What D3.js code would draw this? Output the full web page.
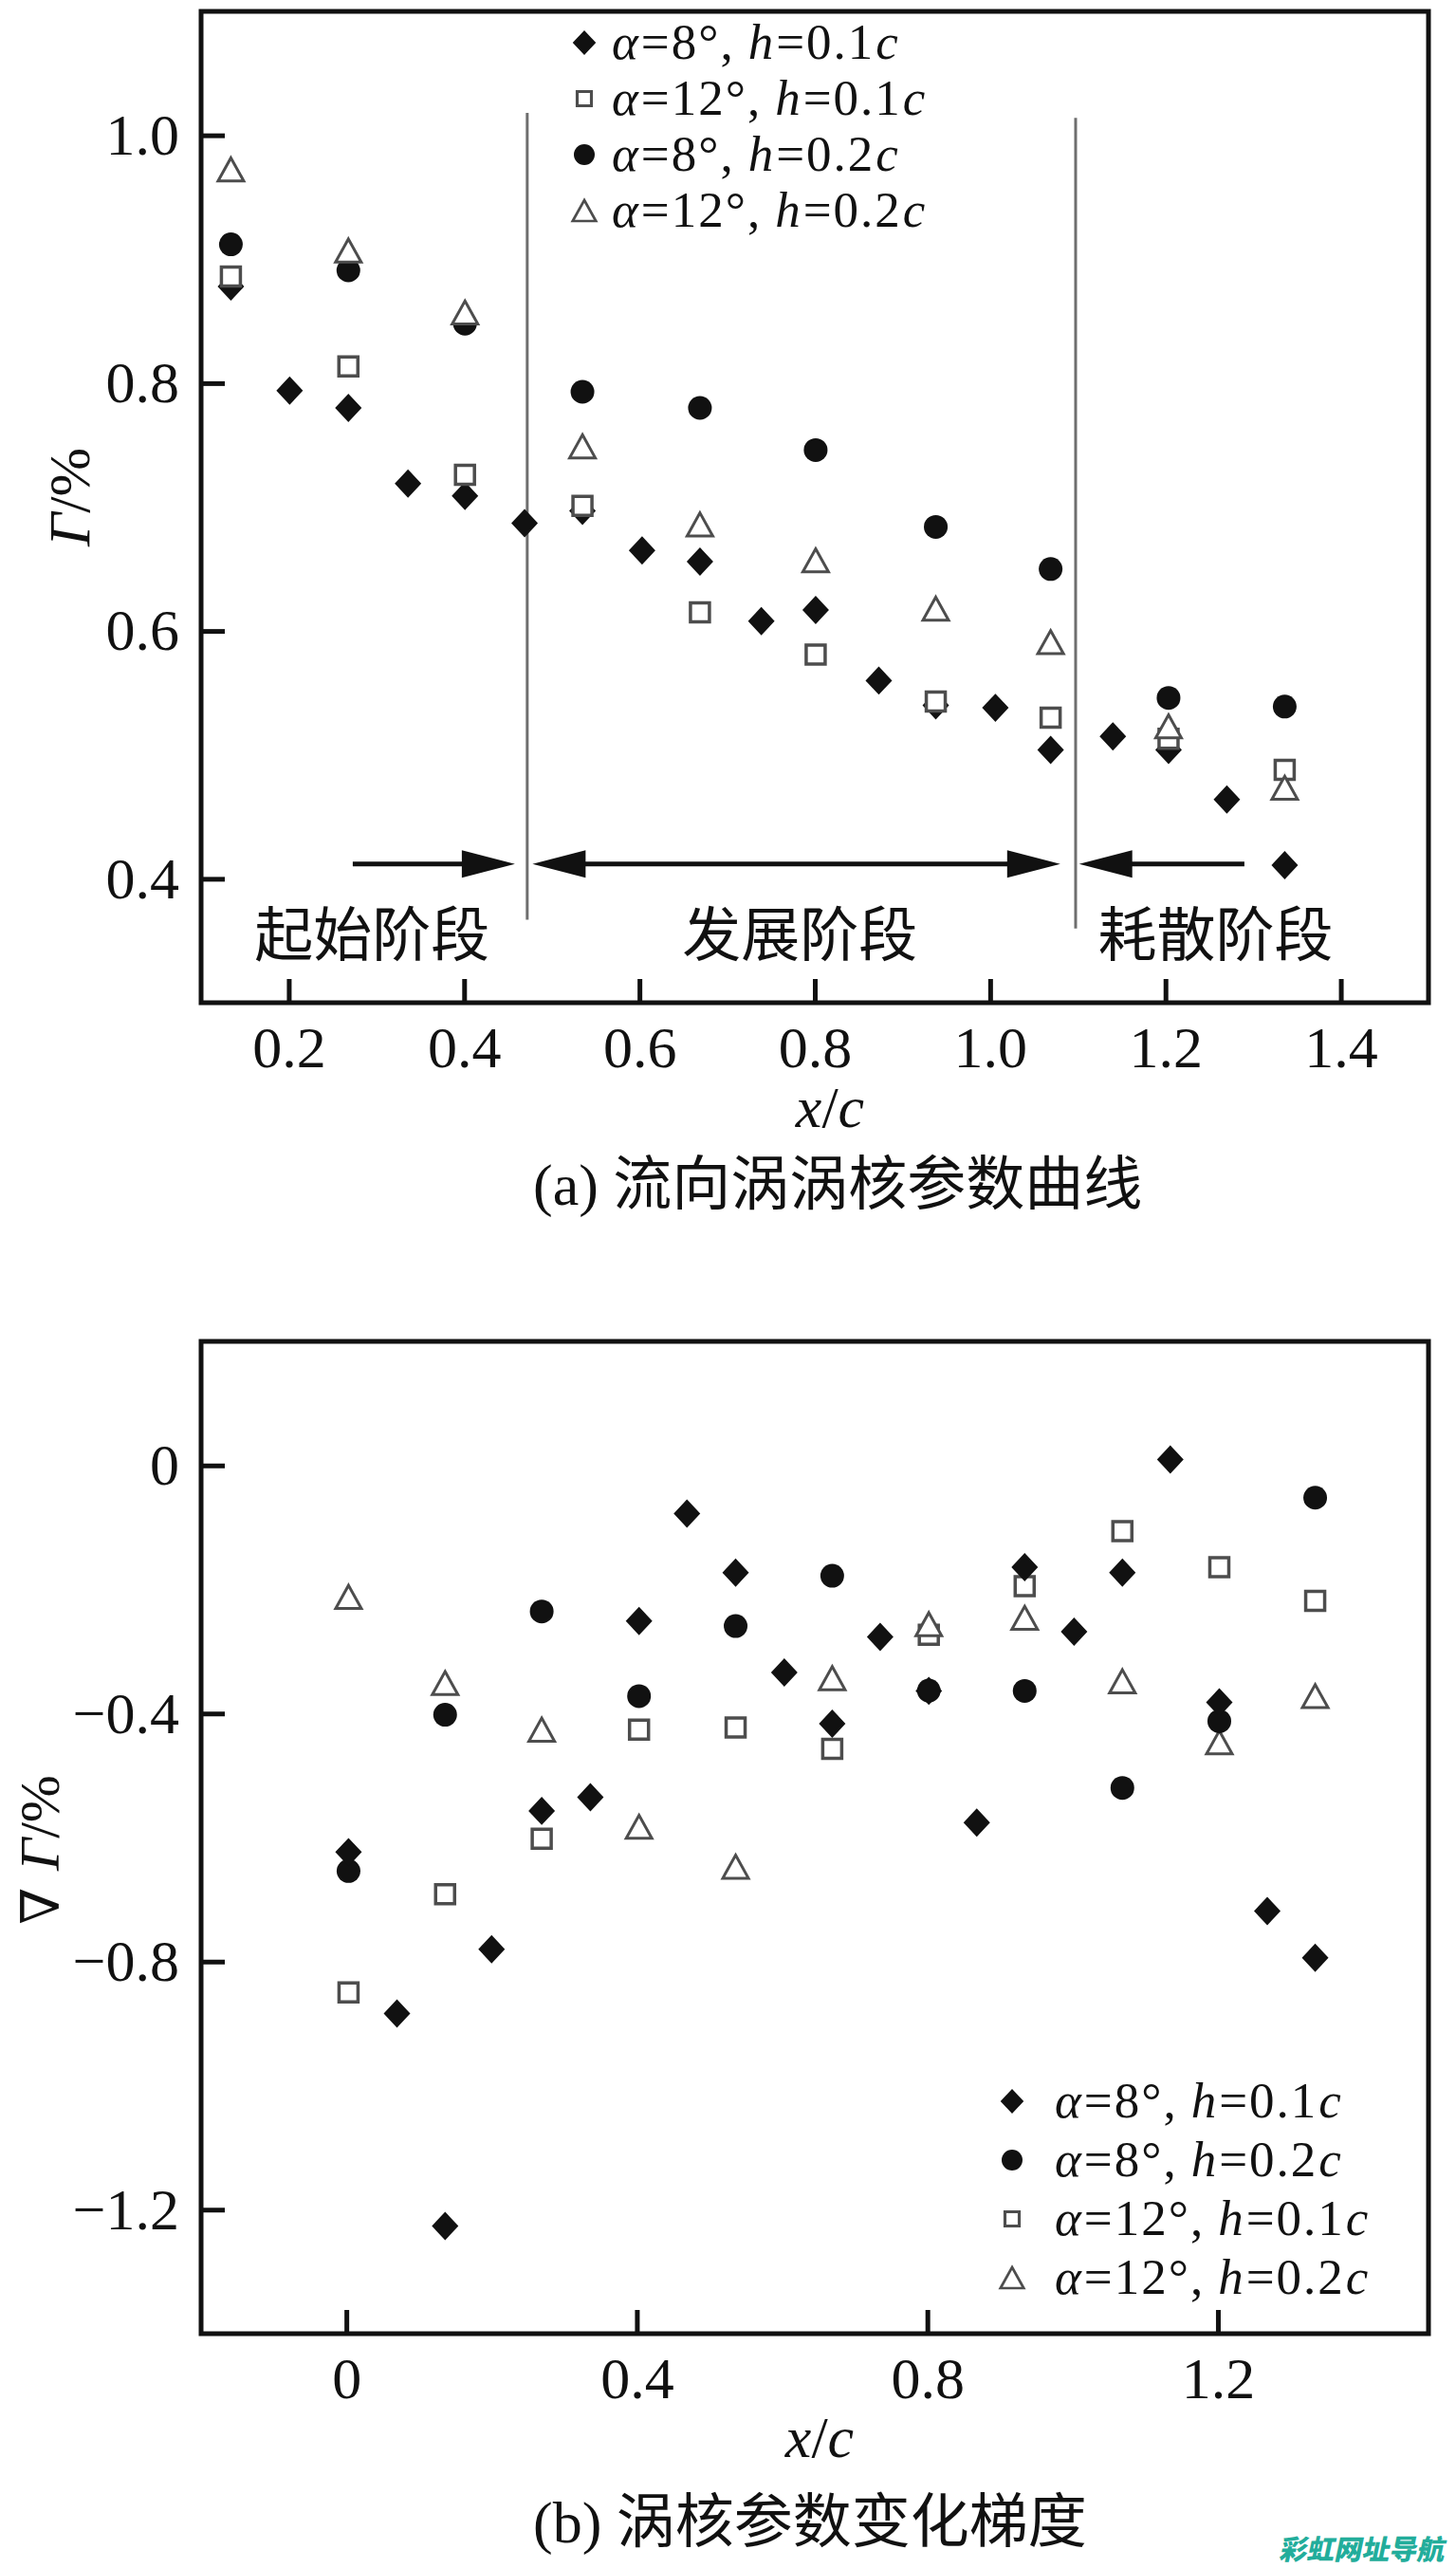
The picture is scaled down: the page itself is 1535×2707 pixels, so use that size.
<!DOCTYPE html>
<html><head><meta charset="utf-8">
<script src="https://cdn.jsdelivr.net/npm/d3@7"></script>
<style>body{margin:0;background:#fff} svg{display:block}</style>
</head><body>
<svg id="chart" width="1535" height="2707"></svg>
<script>
// ---------------- data ----------------
const legendA = ["8°|0.1", "12°|0.1", "8°|0.2", "12°|0.2"];
const legendB = ["8°|0.1", "8°|0.2", "12°|0.1", "12°|0.2"];

// (a) 流向涡涡核参数曲线
const aX_diamond = [0.134,0.201,0.268,0.336,0.401,0.469,0.535,0.603,0.669,0.739,0.801,0.873,0.938,1.006,1.069,1.14,1.2035,1.27,1.336];
const aY_diamond = [0.878,0.794,0.780,0.719,0.709,0.687,0.697,0.665,0.656,0.608,0.617,0.560,0.540,0.538,0.504,0.515,0.504,0.464,0.411];
const aX_other = [0.134,0.268,0.401,0.535,0.669,0.801,0.938,1.069,1.2035,1.336];
const aY_square = [0.886,0.8135,0.726,0.701,0.615,0.581,0.543,0.530,0.513,0.488];
const aY_circle = [0.912,0.891,0.848,0.793,0.780,0.746,0.684,0.650,0.546,0.539];
const aY_triangle = [0.9725,0.907,0.857,0.749,0.686,0.657,0.618,0.591,0.523,0.4735];

const aXTicks = [0.2,0.4,0.6,0.8,1.0,1.2,1.4];
const aYTicks = [0.4,0.6,0.8,1.0];
const stageBounds = [0.472, 1.0975];
const stageLineTop = [1.018, 1.014];
const stageLineBottom = [0.367, 0.360];
const arrowY = 0.412;
const arrows = [[0.273,0.458,"end"],[0.478,1.08,"both"],[1.1015,1.29,"start"]];
const stageLabels = ["起始阶段","发展阶段","耗散阶段"];
const stageLabelX = [0.295,0.783,1.257];

// (b) 涡核参数变化梯度
const bX_diamond = [0.003,0.0697,0.136,0.2,0.269,0.336,0.403,0.469,0.536,0.603,0.669,0.735,0.802,0.868,0.934,1.002,1.0685,1.1345,1.202,1.268,1.334];
const bY_diamond = [-0.6235,-0.8836,-1.2265,-0.78,-0.557,-0.535,-0.251,-0.0776,-0.173,-0.334,-0.4165,-0.2764,-0.3635,-0.576,-0.164,-0.268,-0.173,0.0095,-0.382,-0.7187,-0.794];
const bX_other = [0.003,0.136,0.269,0.403,0.536,0.669,0.802,0.934,1.0685,1.202,1.334];
const bY_circle = [-0.654,-0.402,-0.2355,-0.372,-0.259,-0.178,-0.363,-0.3635,-0.52,-0.4125,-0.052];
const bY_square = [-0.8497,-0.6915,-0.602,-0.426,-0.4227,-0.457,-0.273,-0.1947,-0.106,-0.164,-0.2185];
const bY_triangle = [-0.212,-0.351,-0.426,-0.5826,-0.647,-0.343,-0.256,-0.2457,-0.348,-0.4465,-0.372];

const bXTicks = [0,0.4,0.8,1.2];
const bYTicks = [-1.2,-0.8,-0.4,0];

// ---------------- drawing ----------------
const svg = d3.select("#chart");
const SERIF = "'Liberation Serif','Times New Roman',serif";
const CJK = "'Liberation Serif','Noto Sans CJK SC',sans-serif";
const FILL = "#111";
const OPEN = "#4d4d4d";

const diamondType = { draw(ctx, size){ const w=Math.sqrt(size)/2, h=w*1.07; ctx.moveTo(0,-h); ctx.lineTo(w,0); ctx.lineTo(0,h); ctx.lineTo(-w,0); ctx.closePath(); } };
const triangleType = { draw(ctx, size){ const w=Math.sqrt(size), h=w*0.9; ctx.moveTo(0,-h/2); ctx.lineTo(w/2,h/2); ctx.lineTo(-w/2,h/2); ctx.closePath(); } };

const styles = {
  diamond: {type: diamondType, size: 784, lsize: 600, fill: FILL, stroke: "none", sw: 0},
  circle:  {type: d3.symbolCircle, size: 491, lsize: 380, fill: FILL, stroke: "none", sw: 0},
  square:  {type: d3.symbolSquare, size: 400, lsize: 225, fill: "#fff", stroke: OPEN, sw: 3.5},
  triangle:{type: triangleType, size: 729, lsize: 600, fill: "#fff", stroke: OPEN, sw: 3}
};
const keyStyle = {"8°|0.1":"diamond","12°|0.1":"square","8°|0.2":"circle","12°|0.2":"triangle"};

function plotSeries(g, xs, ys, xScale, yScale, kind){
  const st = styles[kind];
  const data = xs.map((x,i)=>({x, y: ys[i]}));
  g.append("g").selectAll("path").data(data).join("path")
    .attr("transform", d=>`translate(${xScale(d.x)},${yScale(d.y)})`)
    .attr("d", d3.symbol().type(st.type).size(st.size))
    .attr("fill", st.fill).attr("stroke", st.stroke).attr("stroke-width", st.sw)
    .attr("stroke-linejoin","miter");
}

function frameAndAxes(g, xScale, yScale, xTicks, yTicks, xFmt, yFmt){
  const [x0,x1] = xScale.range(); const [y0,y1] = yScale.range();
  const xa = g.append("g").attr("transform",`translate(0,${y0})`)
    .call(d3.axisBottom(xScale).tickValues(xTicks).tickSize(-25).tickPadding(24).tickFormat(xFmt));
  const ya = g.append("g").attr("transform",`translate(${x0},0)`)
    .call(d3.axisLeft(yScale).tickValues(yTicks).tickSize(-25).tickPadding(23).tickFormat(yFmt));
  [xa,ya].forEach(a=>{
    a.select(".domain").remove();
    a.selectAll(".tick line").attr("stroke","#111").attr("stroke-width",5);
    a.selectAll(".tick text").attr("font-family",SERIF).attr("font-size",62).attr("fill","#111");
  });
  g.append("rect").attr("x",x0).attr("y",y1).attr("width",x1-x0).attr("height",y0-y1)
    .attr("fill","none").attr("stroke","#111").attr("stroke-width",5);
}

// legend label built from separate pieces laid out side by side
function legendText(g, key, x, y){
  const [ang, h] = key.split("|");
  const pieces = [["α",true],["=" + ang + ",",false],["h",true],["=" + h,false],["c",true]];
  const gaps = [1, 14, 1, 1, 0];
  let cx = x;
  pieces.forEach(([s,it],i)=>{
    const t = g.append("text").attr("x",cx).attr("y",y)
      .attr("font-family",SERIF).attr("font-size",53).attr("letter-spacing",2).attr("fill","#111")
      .attr("font-style", it ? "italic" : "normal").text(s);
    cx += t.node().getComputedTextLength() + gaps[i];
  });
}

function legend(g, keys, mx, tx, rowY){
  keys.forEach((k,i)=>{
    const st = styles[keyStyle[k]];
    g.append("path").attr("transform",`translate(${mx},${rowY[i]})`)
      .attr("d", d3.symbol().type(st.type).size(st.lsize))
      .attr("fill", st.fill).attr("stroke", st.stroke).attr("stroke-width", st.sw*0.9);
    legendText(g, k, tx, rowY[i] + 17);
  });
}

// ----- chart (a) -----
const ax = d3.scaleLinear().domain([0.1,1.5]).range([212,1506]);
const ay = d3.scaleLinear().domain([0.3,1.1]).range([1057,12]);
const gA = svg.append("g");

stageBounds.forEach((b,i)=>{
  gA.append("line").attr("x1",ax(b)).attr("x2",ax(b))
    .attr("y1",ay(stageLineTop[i])).attr("y2",ay(stageLineBottom[i]))
    .attr("stroke","#6e6e6e").attr("stroke-width",3);
});
const headL = 56, headH = 14.5;
arrows.forEach(([s,e,type])=>{
  const xs = ax(s), xe = ax(e), yy = ay(arrowY);
  const ls = (type==="start"||type==="both") ? xs+headL-2 : xs;
  const le = (type==="end"||type==="both") ? xe-headL+2 : xe;
  gA.append("line").attr("x1",ls).attr("x2",le).attr("y1",yy).attr("y2",yy)
    .attr("stroke","#111").attr("stroke-width",5);
  if(type==="end"||type==="both")
    gA.append("path").attr("d",`M${xe},${yy} L${xe-headL},${yy-headH} L${xe-headL},${yy+headH} Z`).attr("fill","#111");
  if(type==="start"||type==="both")
    gA.append("path").attr("d",`M${xs},${yy} L${xs+headL},${yy-headH} L${xs+headL},${yy+headH} Z`).attr("fill","#111");
});
stageLabels.forEach((s,i)=>{
  gA.append("text").attr("x",ax(stageLabelX[i])).attr("y",1008).attr("text-anchor","middle")
    .attr("font-family","'Noto Sans CJK SC',sans-serif").attr("font-size",62).attr("fill","#111").text(s);
});

plotSeries(gA, aX_diamond, aY_diamond, ax, ay, "diamond");
plotSeries(gA, aX_other, aY_circle, ax, ay, "circle");
plotSeries(gA, aX_other, aY_square, ax, ay, "square");
plotSeries(gA, aX_other, aY_triangle, ax, ay, "triangle");

frameAndAxes(gA, ax, ay, aXTicks, aYTicks, d3.format(".1f"), d3.format(".1f"));
legend(gA, legendA, 616, 645, [45,104,163,222]);

const yA = gA.append("text").attr("transform","translate(94,524) rotate(-90)").attr("text-anchor","middle")
  .attr("font-family",SERIF).attr("font-size",62).attr("fill","#111");
yA.append("tspan").attr("font-style","italic").text("Γ");
yA.append("tspan").text("/%");
const xA = gA.append("text").attr("x",875).attr("y",1188).attr("text-anchor","middle")
  .attr("font-family",SERIF).attr("font-size",62).attr("fill","#111");
xA.append("tspan").attr("font-style","italic").text("x");
xA.append("tspan").text("/");
xA.append("tspan").attr("font-style","italic").text("c");
gA.append("text").attr("x",562).attr("y",1270).attr("font-family",CJK).attr("font-size",62)
  .attr("fill","#111").text("(a) 流向涡涡核参数曲线");

// ----- chart (b) -----
const bx = d3.scaleLinear().domain([-0.2,1.49]).range([212,1506]);
const by = d3.scaleLinear().domain([-1.4,0.2]).range([2460,1414]);
const gB = svg.append("g");

plotSeries(gB, bX_other, bY_square, bx, by, "square");
plotSeries(gB, bX_other, bY_triangle, bx, by, "triangle");
plotSeries(gB, bX_other, bY_circle, bx, by, "circle");
plotSeries(gB, bX_diamond, bY_diamond, bx, by, "diamond");

const fmtB = d => d===0 ? "0" : d3.format(".1f")(d);
frameAndAxes(gB, bx, by, bXTicks, bYTicks, fmtB, fmtB);
legend(gB, legendB, 1067, 1112, [2215,2277,2339,2401]);

const yB = gB.append("text").attr("transform","translate(62,1950) rotate(-90)").attr("text-anchor","middle")
  .attr("font-family",SERIF).attr("font-size",60).attr("fill","#111");
yB.append("tspan").attr("font-family","'DejaVu Serif',serif").attr("font-size",56).text("∇ ");
yB.append("tspan").attr("font-style","italic").text("Γ");
yB.append("tspan").text("/%");
const xB = gB.append("text").attr("x",864).attr("y",2590).attr("text-anchor","middle")
  .attr("font-family",SERIF).attr("font-size",62).attr("fill","#111");
xB.append("tspan").attr("font-style","italic").text("x");
xB.append("tspan").text("/");
xB.append("tspan").attr("font-style","italic").text("c");
gB.append("text").attr("x",562).attr("y",2680).attr("font-family",CJK).attr("font-size",62)
  .attr("fill","#111").text("(b) 涡核参数变化梯度");

// watermark
svg.append("text").attr("transform","translate(1348,2698) skewX(-12)")
  .attr("font-family","'Noto Sans CJK SC',sans-serif").attr("font-weight",900).attr("font-size",29)
  .attr("fill","#22ad9b").text("彩虹网址导航");
</script>
</body></html>
